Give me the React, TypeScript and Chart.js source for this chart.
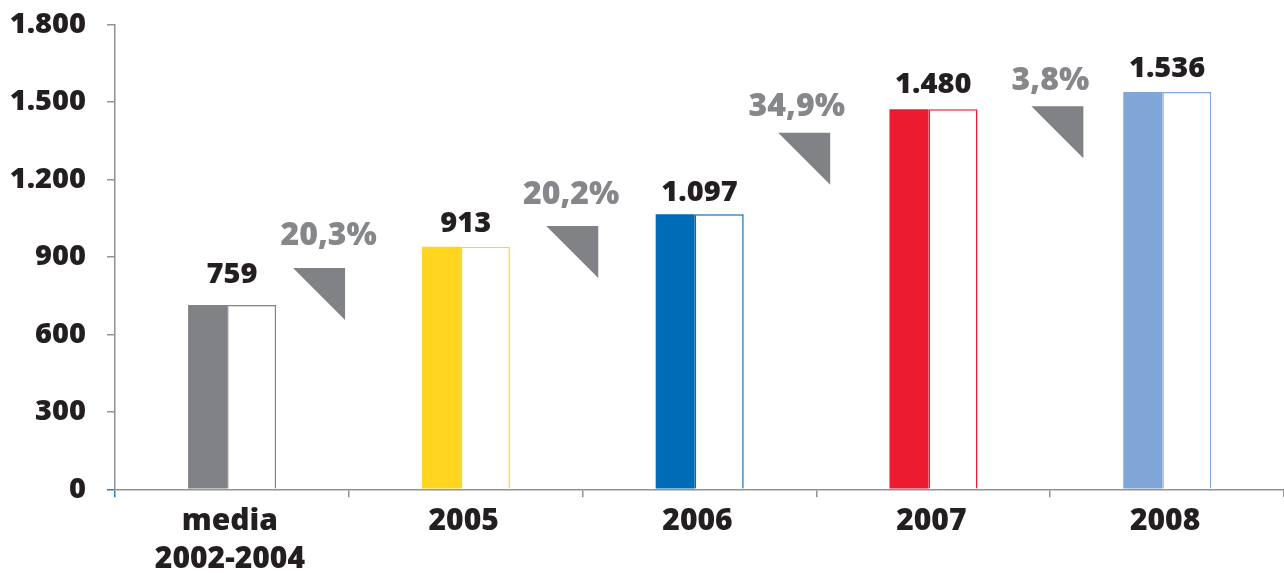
import React, { useEffect, useRef } from "react";
import { Chart, registerables } from "chart.js";

Chart.register(...registerables);

// ---- data ----
const categories: (string | string[])[] = [["media", "2002-2004"], "2005", "2006", "2007", "2008"];
// bar heights as drawn in the picture
const barHeights: number[] = [714, 940, 1066, 1472, 1539];
// printed value labels
const valueLabels: string[] = ["759", "913", "1.097", "1.480", "1.536"];
// baseline (value units) of each value label
const valueLabelY: number[] = [799, 998, 1118, 1534, 1598];
const barColors: string[] = ["#808285", "#FFD520", "#006BB6", "#ED1B2F", "#7FA6D7"];

const growthLabels: string[] = ["20,3%", "20,2%", "34,9%", "3,8%"];
const growthLabelX: number[] = [0.414, 1.451, 2.416, 3.501];
const growthLabelY: number[] = [946, 1105, 1447, 1546];
const growthTriX: number[] = [0.484, 1.567, 2.559, 3.642];
const growthTriY: number[] = [857, 1020, 1381, 1484];

const yTickLabels: string[] = ["0", "300", "600", "900", "1.200", "1.500", "1.800"];

// ---- styles ----
const FONT = '"Open Sans", "Noto Sans", sans-serif';
const WEIGHT = 800;
const TEXT = "#231f20";
const GREY = "#808285";
const AXIS = "#929292";
const BLUE_TICK = "#2f7fc8";
const TRI = 52;

const annotationPlugin = {
  id: "annotations",
  afterDatasetsDraw(chart: any) {
    const { ctx, scales } = chart;
    const x = scales.x;
    const y = scales.y;
    ctx.save();
    ctx.textAlign = "center";
    ctx.textBaseline = "alphabetic";
    ctx.font = `${WEIGHT} 29px ${FONT}`;
    ctx.fillStyle = TEXT;
    valueLabels.forEach((t, i) => {
      ctx.fillText(t, x.getPixelForValue(i), y.getPixelForValue(valueLabelY[i]));
    });
    ctx.fillStyle = GREY;
    growthTriX.forEach((gx, i) => {
      const right = x.getPixelForValue(gx);
      const top = y.getPixelForValue(growthTriY[i]);
      ctx.beginPath();
      ctx.moveTo(right - TRI, top);
      ctx.lineTo(right, top);
      ctx.lineTo(right, top + TRI);
      ctx.closePath();
      ctx.fill();
    });
    ctx.font = `${WEIGHT} 32px ${FONT}`;
    ctx.fillStyle = "#86878a";
    growthLabels.forEach((t, i) => {
      ctx.fillText(t, x.getPixelForValue(growthLabelX[i]), y.getPixelForValue(growthLabelY[i]));
    });
    ctx.restore();
  },
};

export default function App() {
  const ref = useRef<HTMLCanvasElement | null>(null);
  useEffect(() => {
    if (!ref.current) return;
    const chart = new Chart(ref.current, {
      type: "bar",
      data: {
        labels: categories,
        datasets: [
          {
            data: barHeights,
            backgroundColor: barColors,
            borderWidth: 0,
            categoryPercentage: 0.416,
            barPercentage: 0.8025,
          },
          {
            data: barHeights,
            backgroundColor: "#ffffff",
            borderColor: barColors,
            borderWidth: 1.5,
            borderSkipped: "bottom",
            categoryPercentage: 0.337,
            barPercentage: 1.2437,
          },
        ],
      },
      options: {
        responsive: false,
        animation: false,
        layout: { padding: { top: 24.7, right: 0, left: 0, bottom: 0 } },
        plugins: { legend: { display: false }, tooltip: { enabled: false } },
        scales: {
          x: {
            offset: true,
            afterFit: (s: any) => {
              s.height = 83.7;
              s.paddingLeft = 0;
              s.paddingRight = 0;
            },
            border: { display: true, color: AXIS, width: 1.5 },
            grid: {
              offset: true,
              drawOnChartArea: false,
              drawTicks: true,
              tickLength: 8,
              lineWidth: 1.5,
              color: (c: any) => (c.index === 0 ? BLUE_TICK : c.index >= categories.length ? "rgba(0,0,0,0)" : AXIS),
            },
            ticks: {
              color: TEXT,
              font: { family: FONT, size: 30, weight: WEIGHT, lineHeight: 1.27 },
              padding: 5,
              labelOffset: -2,
              maxRotation: 0,
              autoSkip: false,
            },
          },
          y: {
            min: 0,
            max: 1800,
            afterFit: (s: any) => {
              s.width = 115;
              s.paddingTop = 0;
              s.paddingBottom = 0;
            },
            border: { display: true, color: AXIS, width: 1.5 },
            grid: {
              drawOnChartArea: false,
              drawTicks: true,
              tickLength: 8,
              lineWidth: 1.5,
              color: (c: any) => (c.tick && c.tick.value === 0 ? BLUE_TICK : AXIS),
            },
            ticks: {
              stepSize: 300,
              color: TEXT,
              font: { family: FONT, size: 29, weight: WEIGHT },
              padding: 21,
              callback: (_v: any, i: number) => yTickLabels[i],
            },
          },
        },
      },
      plugins: [annotationPlugin],
    });
    return () => chart.destroy();
  }, []);
  return (
    <canvas
      ref={ref}
      width={1284}
      height={573}
      style={{ position: "absolute", left: 0, top: 0, display: "block", width: 1284, height: 573 }}
    />
  );
}
